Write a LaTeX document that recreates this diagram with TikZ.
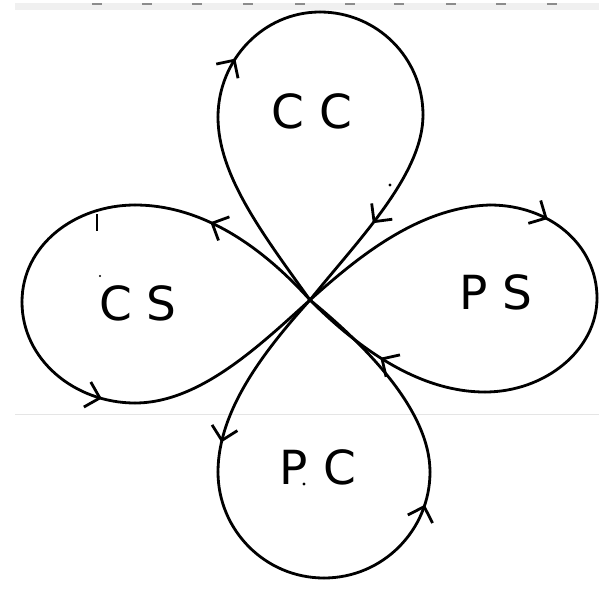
\documentclass[tikz,border=0pt]{standalone}
\usepackage{fontspec}
\setmainfont{DejaVu Sans}
\usetikzlibrary{arrows.meta,decorations.markings}
\begin{document}
\begin{tikzpicture}[x=1pt,y=-1pt,
  loopline/.style={line width=2.8pt, line cap=round, line join=round},
  lbl/.style={font=\fontsize{47}{47}\selectfont, inner sep=0pt},
  arr/.style={postaction={decorate,decoration={markings,mark=at position #1 with {\arrow{Straight Barb[length=13pt,width=26pt]}}}}}
]
\useasboundingbox (0,0) rectangle (599,589);
\fill[white] (0,0) rectangle (599,589);
% top ruler band
\fill[black!6] (15,3) rectangle (599,10);
\foreach \x in {97,147,197,248,300,350,399,451,501,552}
  \fill[black!45] ({\x-5},3) rectangle ({\x+5},5);
% faint line
\draw[black!10, line width=0.8pt] (15,414) -- (599,414);

\coordinate (C) at (310,300);
% top loop
\coordinate (L1) at (218,117);
\coordinate (T1) at (320,12);
\coordinate (R1) at (423,115);
% bottom loop
\coordinate (Lb) at (218,472);
\coordinate (Bb) at (324,578);
\coordinate (Rb) at (430,472);
% left loop
\coordinate (TL) at (135,205);
\coordinate (LL) at (22,302);
\coordinate (BL) at (135,403);
% right loop
\coordinate (TR) at (490,205);
\coordinate (RR) at (597,298);
\coordinate (BR) at (485,392);

% top loop CC
\draw[loopline] (C) .. controls (262,233) and (218,175) .. (L1);
\draw[loopline,arr=0.38] (L1) .. controls (218,60) and (263,12) .. (T1);
\draw[loopline] (T1) .. controls (377,12) and (423,58) .. (R1);
\draw[loopline,arr=0.55] (R1) .. controls (423,175) and (358,240) .. (C);
% bottom loop PC
\draw[loopline,arr=0.85] (C) .. controls (265,350) and (218,410) .. (Lb);
\draw[loopline] (Lb) .. controls (218,530) and (265,578) .. (Bb);
\draw[loopline,arr=0.8] (Bb) .. controls (383,578) and (430,530) .. (Rb);
\draw[loopline] (Rb) .. controls (430,410) and (365,345) .. (C);
% left loop CS
\draw[loopline,arr=0.62] (C) .. controls (265,250) and (205,205) .. (TL);
\draw[loopline] (TL) .. controls (75,205) and (22,245) .. (LL);
\draw[loopline,arr=0.8] (LL) .. controls (22,360) and (75,403) .. (BL);
\draw[loopline] (BL) .. controls (200,403) and (260,345) .. (C);
% right loop PS
\draw[loopline] (C) .. controls (360,255) and (420,207) .. (TR);
\draw[loopline,arr=0.38] (TR) .. controls (550,205) and (597,245) .. (RR);
\draw[loopline] (RR) .. controls (597,350) and (545,392) .. (BR);
\draw[loopline,arr=0.55] (BR) .. controls (420,392) and (360,350) .. (C);

% labels
\node[lbl] (cc) at (312,111) {C C};
\node[lbl] (ps) at (496,292) {P S};
\node[lbl] (cs) at (138,303) {C S};
\node[lbl] (pc) at (318,467) {P C};

% stray marks
\draw[line width=1.3pt] (97,214) -- (97,231);
\fill (100,276) circle (1.2);
\fill (304,484) circle (1.6);
\fill (390,185) circle (1.6);
\end{tikzpicture}
\end{document}
